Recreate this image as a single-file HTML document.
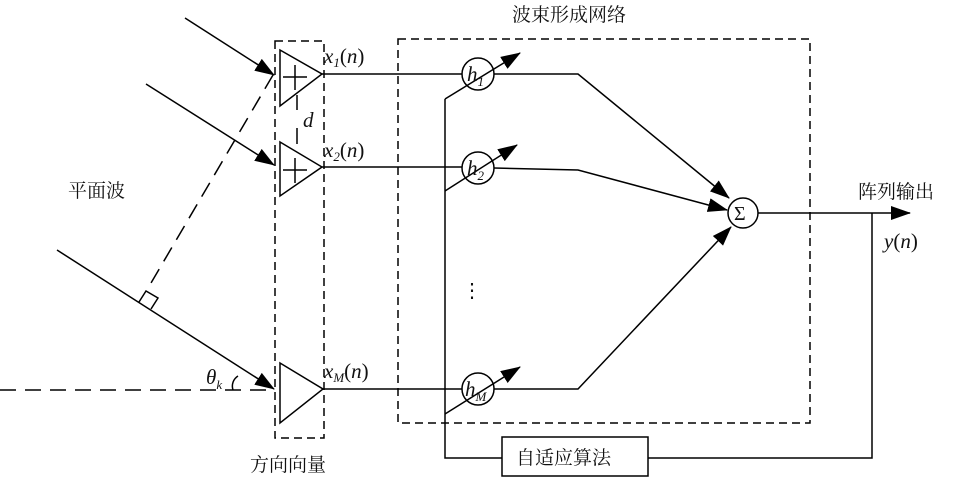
<!DOCTYPE html>
<html><head><meta charset="utf-8"><style>
body{margin:0;background:#fff;}
svg{display:block;}
text{font-family:"Liberation Serif","Noto Serif CJK SC",serif;fill:#111;}
.cj{font-family:"Liberation Serif","Noto Serif CJK SC",serif;font-size:19px;}
</style></head><body>
<svg width="961" height="502" viewBox="0 0 961 502" xmlns="http://www.w3.org/2000/svg">
<defs>
<marker id="b" markerWidth="20" markerHeight="14" refX="19" refY="7" orient="auto" markerUnits="userSpaceOnUse" viewBox="0 0 20 14"><path d="M0,0 L20,7 L0,14 z" fill="#000"/></marker></defs>
<g stroke="#000" stroke-width="1.5" fill="none">
<line x1="185" y1="18" x2="274" y2="75" marker-end="url(#b)"/>
<line x1="146" y1="84" x2="274" y2="165" marker-end="url(#b)"/>
<line x1="57" y1="250" x2="274" y2="389" marker-end="url(#b)"/>
<line x1="0" y1="390" x2="274" y2="390" stroke-dasharray="16,9"/>
<line x1="273" y1="75" x2="151" y2="283" stroke-dasharray="16,9"/>
<path d="M139,302 L146,291 L158,298 L151,309"/>
<path d="M233,390 A12,12 0 0 1 238,376"/>
<rect x="275" y="41" width="49" height="397" stroke-dasharray="8,5"/>
<path d="M280,50 L322,74 L280,106 z"/>
<path d="M280,142 L322,167 L280,196 z"/>
<path d="M280,363 L323,389 L280,423 z"/>
<line x1="283" y1="77" x2="307" y2="77"/><line x1="295" y1="65" x2="295" y2="90"/>
<line x1="283" y1="170" x2="307" y2="170"/><line x1="295" y1="158" x2="295" y2="183"/>
<line x1="297" y1="95" x2="297" y2="110"/><line x1="297" y1="128" x2="297" y2="144"/>
<rect x="398" y="39" width="412" height="384" stroke-dasharray="8,5"/>
<line x1="322" y1="74" x2="462" y2="74"/>
<line x1="322" y1="167" x2="462" y2="167"/>
<line x1="323" y1="389" x2="462" y2="389"/>
<circle cx="478" cy="74" r="16"/><circle cx="478" cy="168" r="16"/><circle cx="478" cy="389" r="16"/>
<line x1="445" y1="99" x2="520" y2="53" marker-end="url(#b)"/>
<line x1="445" y1="191" x2="517" y2="145" marker-end="url(#b)"/>
<line x1="445" y1="414" x2="520" y2="367" marker-end="url(#b)"/>
<polyline points="445,99 445,458 502,458"/>
<polyline points="494,74 578,74 729,198" marker-end="url(#b)"/>
<polyline points="494,168 578,170 727,210" marker-end="url(#b)"/>
<polyline points="494,389 578,389 731,227" marker-end="url(#b)"/>
<circle cx="743" cy="213" r="15"/>
<line x1="758" y1="213" x2="910" y2="213" marker-end="url(#b)"/>
<polyline points="872,213 872,458 648,458"/>
<rect x="502" y="437" width="146" height="39"/>
</g>
<g font-style="italic" font-size="21">
<text x="324" y="63">x<tspan font-size="13" dy="4">1</tspan><tspan dy="-4" font-style="normal">(</tspan>n<tspan font-style="normal">)</tspan></text>
<text x="324" y="157">x<tspan font-size="13" dy="4">2</tspan><tspan dy="-4" font-style="normal">(</tspan>n<tspan font-style="normal">)</tspan></text>
<text x="324" y="378">x<tspan font-size="13" dy="4">M</tspan><tspan dy="-4" font-style="normal">(</tspan>n<tspan font-style="normal">)</tspan></text>
<text x="303" y="127">d</text>
<text x="467" y="81">h<tspan font-size="13" dy="5">1</tspan></text>
<text x="467" y="175">h<tspan font-size="13" dy="5">2</tspan></text>
<text x="465" y="396">h<tspan font-size="13" dy="5">M</tspan></text>
<text x="884" y="248">y<tspan font-style="normal">(</tspan>n<tspan font-style="normal">)</tspan></text>
<text x="206" y="384">θ<tspan font-size="13" dy="5">k</tspan></text>
</g>
<text x="734" y="220" font-size="20">Σ</text>
<text x="462" y="297" font-size="20">⋮</text>
<text class="cj" x="68" y="197">平面波</text>
<text class="cj" x="512" y="21">波束形成网络</text>
<text class="cj" x="858" y="198">阵列输出</text>
<text class="cj" x="250" y="471">方向向量</text>
<text class="cj" x="516" y="464">自适应算法</text>
</svg>
</body></html>
